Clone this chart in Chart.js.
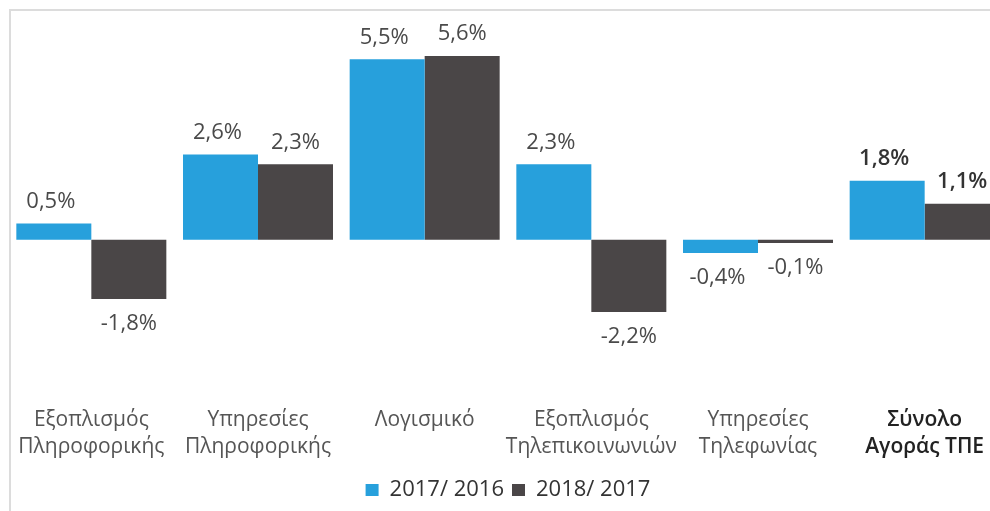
<!DOCTYPE html>
<html>
<head>
<meta charset="utf-8">
<script src="https://cdn.jsdelivr.net/npm/chart.js@4.4.1/dist/chart.umd.min.js"></script>
<style>
  html, body { margin: 0; padding: 0; background: #fff; overflow: hidden; }
  #wrap { position: relative; width: 1008px; height: 511px; }
  #frame { position: absolute; left: 9px; top: 9px; width: 1100px; height: 600px;
           border-left: 2px solid #dcdcdc; border-top: 2px solid #dcdcdc; }
  canvas { position: absolute; left: 0; top: 0; }
</style>
</head>
<body>
<div id="wrap">
  <div id="frame"></div>
  <canvas id="c" width="1008" height="511"></canvas>
</div>
<script>
const categories = [
  ['Εξοπλισμός', 'Πληροφορικής'],
  ['Υπηρεσίες', 'Πληροφορικής'],
  ['Λογισμικό'],
  ['Εξοπλισμός', 'Τηλεπικοινωνιών'],
  ['Υπηρεσίες', 'Τηλεφωνίας'],
  ['Σύνολο', 'Αγοράς ΤΠΕ']
];
const seriesNames = ['2017/ 2016', '2018/ 2017'];
const values2017 = [0.5, 2.6, 5.5, 2.3, -0.4, 1.8];
const values2018 = [-1.8, 2.3, 5.6, -2.2, -0.1, 1.1];
const colors = ['#27a0dc', '#4a4647'];

const FONT = "'Open Sans', 'Noto Sans', sans-serif";
const fmt = v => v.toFixed(1).replace('.', ',') + '%';

const labelPlugin = {
  id: 'barLabels',
  afterDatasetsDraw(chart) {
    const ctx = chart.ctx;
    ctx.save();
    ctx.textAlign = 'center';
    ctx.textBaseline = 'middle';
    chart.data.datasets.forEach((ds, di) => {
      const meta = chart.getDatasetMeta(di);
      meta.data.forEach((el, i) => {
        const v = ds.data[i];
        const bold = i === categories.length - 1;
        ctx.font = (bold ? '600 ' : '400 ') + '22px ' + FONT;
        ctx.fillStyle = bold ? '#333' : '#4a4a4a';
        const y = v >= 0 ? el.y - 22 : el.y + 25;
        ctx.fillText(fmt(v), el.x - (di === 0 ? 3 : 0), y);
      });
    });
    ctx.restore();
  }
};

new Chart(document.getElementById('c'), {
  type: 'bar',
  data: {
    labels: categories,
    datasets: [
      { label: seriesNames[0], data: values2017, backgroundColor: colors[0], borderWidth: 0 },
      { label: seriesNames[1], data: values2018, backgroundColor: colors[1], borderWidth: 0 }
    ]
  },
  options: {
    responsive: false,
    animation: false,
    events: [],
    layout: { padding: { left: 8, right: 0, top: 10, bottom: 0 } },
    datasets: { bar: { barPercentage: 1, categoryPercentage: 0.9 } },
    scales: {
      x: {
        grid: { display: false, drawTicks: false },
        border: { display: false },
        afterFit(scale) { scale.height = 67; },
        ticks: {
          autoSkip: false, maxRotation: 0, minRotation: 0, padding: 3,
          color: ctx => ctx.index === 5 ? '#222' : '#555',
          font: ctx => ({ family: FONT, size: 21, lineHeight: '27px', weight: ctx.index === 5 ? '600' : '400' })
        }
      },
      y: { display: false, min: -5, max: 7 }
    },
    plugins: {
      legend: {
        position: 'bottom',
        labels: {
          boxWidth: 13, boxHeight: 12, padding: 8,
          color: '#333',
          font: { family: FONT, size: 22 }
        }
      },
      tooltip: { enabled: false }
    }
  },
  plugins: [labelPlugin]
});
</script>
</body>
</html>
